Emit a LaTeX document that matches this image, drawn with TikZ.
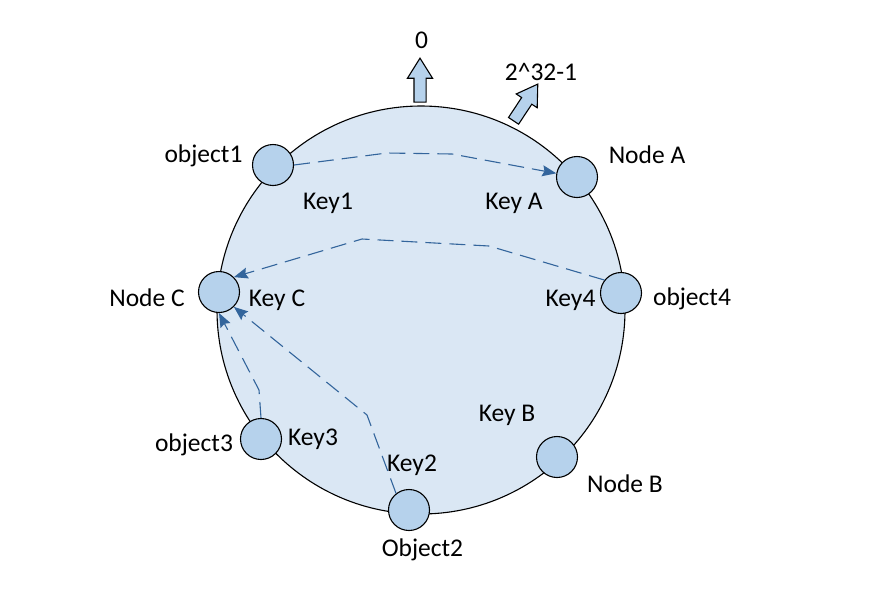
\documentclass[tikz,border=0pt]{standalone}
\usepackage{fontspec}
\setmainfont{Carlito}
\usetikzlibrary{arrows.meta,positioning,shapes.arrows}
\definecolor{clRing}{HTML}{DAE7F4}
\definecolor{clSlot}{HTML}{B6D2EC}
\definecolor{clHop}{HTML}{33659C}
\tikzset{
  ring/.style={circle, draw, line width=1.1pt, fill=clRing, inner sep=0pt},
  slot/.style={circle, draw, line width=1.1pt, fill=clSlot, inner sep=0pt,
               minimum size=41pt},
  tag/.style={font=\fontsize{25.5}{30}\selectfont, inner sep=0pt, anchor=base},
  pointer/.style={single arrow, draw, line width=1.1pt, fill=clSlot,
                  inner xsep=0pt, inner ysep=5.5pt, single arrow head extend=6.5pt,
                  single arrow tip angle=64, minimum height=44pt},
  hop/.style={draw=clHop, line width=1.1pt, dash pattern=on 16pt off 8pt,
              -{Stealth[length=14pt,width=11pt,inset=2pt]}},
}
\begin{document}
\begin{tikzpicture}[x=1pt,y=-1pt]
  \useasboundingbox (0,0) rectangle (870,598);
  % hash ring
  \node[ring, minimum size=408pt] (ring) at (421,310) {};
  \node[pointer, rotate=90] (zero) at (420,85) {};
  \node[pointer, rotate=56.6] (top) at (523,106.5) {};
  \node[tag] (zerotag) at (421.5,48) {0};
  \node[tag] (toptag) at (541,80) {2\^{}32-1};
  % nodes and objects on the ring
  \node[slot] (obj1) at (273,165) {};
  \node[slot] (nodeA) at (577,177) {};
  \node[slot] (nodeC) at (219,292) {};
  \node[slot] (obj4) at (621,293) {};
  \node[slot] (obj3) at (261,439) {};
  \node[slot] (obj2) at (409,510) {};
  \node[slot] (nodeB) at (557,457) {};
  \node[tag] (obj1tag) at (203.5,162) {object1};
  \node[tag] (key1) at (328,209) {Key1};
  \node[tag] (keyA) at (514,209) {Key A};
  \node[tag] (nodeAtag) at (647,163) {Node A};
  \node[tag] (nodeCtag) at (147,306) {Node C};
  \node[tag] (keyC) at (277,306) {Key C};
  \node[tag] (key4) at (570.5,306) {Key4};
  \node[tag] (obj4tag) at (692,305) {object4};
  \node[tag] (obj3tag) at (194,451) {object3};
  \node[tag] (key3) at (313,445.5) {Key3};
  \node[tag] (key2) at (412,471.5) {Key2};
  \node[tag] (obj2tag) at (422.5,556) {Object2};
  \node[tag] (keyB) at (507,421) {Key B};
  \node[tag] (nodeBtag) at (625,492) {Node B};
  % lookups
  \draw[hop] (obj1.east) -- (387,153) -- (452,154) -- (nodeA.170);
  \draw[hop] (obj4.142) -- (489,246) -- (362,239) -- (nodeC.45);
  \draw[hop] (obj3.north) -- (259,390) -- (nodeC.south);
  \draw[hop] (obj2.128) -- (367,415) -- (nodeC.-45);
\end{tikzpicture}
\end{document}
